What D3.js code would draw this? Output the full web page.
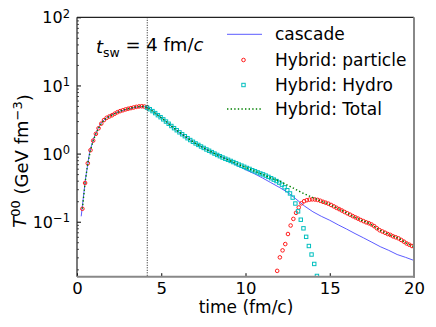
<!DOCTYPE html>
<html>
<head>
<meta charset="utf-8">
<script src="https://cdn.jsdelivr.net/npm/d3@7"></script>
<style>
  body { margin: 0; background: #fff; }
  text { font-family: "DejaVu Sans", sans-serif; fill: #000; }
</style>
</head>
<body>
<div id="chart"></div>
<script>
// values: [time fm/c, T00 GeV/fm^3]
const cascade = [
  [0.25,0.12],[0.5,0.42],[0.75,1.05],[1.0,1.7],[1.25,2.35],[1.5,2.95],[1.75,3.35],[2.0,3.65],
  [2.5,4.15],[3.0,4.5],[3.5,4.8],[4.0,4.9],[4.25,4.7],[4.5,4.2],[5.0,3.4],[5.5,2.65],
  [6.0,2.1],[6.5,1.72],[7.0,1.42],[7.5,1.22],[8.0,1.05],[8.5,0.92],[9.0,0.8],[9.5,0.67],
  [10.0,0.58],[10.5,0.51],[11.0,0.44],[11.5,0.375],[12.0,0.32],[12.5,0.27],[13.0,0.215],
  [13.5,0.17],[14.0,0.14],[14.5,0.12],[15.0,0.105],[15.5,0.09],[16.0,0.078],[16.5,0.067],
  [17.0,0.058],[17.5,0.05],[18.0,0.043],[18.5,0.038],[19.0,0.033],[19.5,0.03],[20.0,0.027]
];

const particle = [
  [0.32,0.155],[0.48,0.37],[0.64,0.72],[0.80,1.12],[0.96,1.55],[1.12,1.95],[1.28,2.35],
  [1.44,2.75],[1.60,3.1],[1.76,3.35],[1.92,3.5],[2.08,3.65],[2.24,3.85],[2.40,4.05],
  [2.56,4.2],[2.72,4.32],[2.88,4.45],[3.04,4.55],[3.20,4.65],[3.36,4.75],[3.52,4.85],
  [3.68,4.92],[3.84,4.95],[4.00,4.9],[4.16,4.8],
  [11.88,0.019],[12.04,0.030],[12.20,0.038],[12.36,0.047],[12.52,0.066],[12.68,0.088],
  [12.84,0.11],[13.00,0.135],[13.16,0.162],[13.32,0.186],[13.48,0.2],[13.64,0.207],
  [13.80,0.211],[13.96,0.213],[14.12,0.212],[14.28,0.209],[14.44,0.203],[14.60,0.196],
  [14.76,0.19],[14.92,0.184],[15.08,0.176],[15.24,0.168],[15.40,0.16],[15.56,0.153],
  [15.72,0.146],[15.88,0.139],[16.04,0.133],[16.20,0.127],[16.36,0.121],[16.52,0.116],
  [16.68,0.111],[16.84,0.106],[17.00,0.102],[17.16,0.098],[17.32,0.095],[17.48,0.091],
  [17.64,0.086],[17.80,0.08],[17.96,0.075],[18.12,0.072],[18.28,0.069],[18.44,0.066],
  [18.60,0.064],[18.76,0.061],[18.92,0.059],[19.08,0.057],[19.24,0.054],[19.40,0.051],
  [19.56,0.048],[19.72,0.046],[19.88,0.044],[20.04,0.043]
];

const hydro = [
  [4.16,4.72],[4.32,4.48],[4.48,4.2],[4.64,3.93],[4.80,3.66],[4.96,3.42],[5.12,3.18],
  [5.28,2.95],[5.44,2.74],[5.60,2.54],[5.76,2.36],[5.92,2.2],[6.08,2.05],[6.24,1.92],
  [6.40,1.8],[6.56,1.68],[6.72,1.58],[6.88,1.49],[7.04,1.41],[7.20,1.34],[7.36,1.27],
  [7.52,1.21],[7.68,1.15],[7.84,1.1],[8.00,1.05],[8.16,1.0],[8.32,0.955],[8.48,0.915],
  [8.64,0.875],[8.80,0.84],[8.96,0.81],[9.12,0.78],[9.28,0.75],[9.44,0.72],[9.60,0.69],
  [9.76,0.665],[9.92,0.64],[10.08,0.615],[10.24,0.595],[10.40,0.57],[10.56,0.55],
  [10.72,0.53],[10.88,0.51],[11.04,0.495],[11.20,0.475],[11.36,0.455],[11.52,0.435],
  [11.68,0.415],[11.84,0.395],[12.00,0.375],[12.16,0.35],[12.32,0.32],[12.48,0.29],
  [12.64,0.26],[12.80,0.226],[12.96,0.185],[13.12,0.142],[13.28,0.107],[13.44,0.08],
  [13.60,0.06],[13.76,0.044],[13.92,0.033],[14.08,0.024],[14.24,0.016]
];

const total = [
  [0.32,0.155],[0.48,0.37],[0.64,0.72],[0.80,1.12],[0.96,1.55],[1.12,1.95],[1.28,2.35],
  [1.44,2.75],[1.60,3.1],[1.92,3.5],[2.24,3.85],[2.56,4.2],[2.88,4.45],[3.20,4.65],
  [3.52,4.85],[3.84,4.95],[4.16,4.75],[4.48,4.2],[4.80,3.66],[5.12,3.18],[5.44,2.74],
  [5.76,2.36],[6.08,2.05],[6.40,1.8],[6.72,1.58],[7.04,1.41],[7.36,1.27],[7.68,1.15],
  [8.00,1.05],[8.32,0.955],[8.64,0.875],[8.96,0.81],[9.28,0.75],[9.60,0.69],[9.92,0.64],
  [10.24,0.595],[10.56,0.55],[10.88,0.51],[11.20,0.475],[11.52,0.435],[11.84,0.41],
  [12.16,0.38],[12.48,0.345],[12.80,0.315],[13.12,0.285],[13.44,0.26],[13.76,0.24],
  [14.08,0.222],[14.40,0.204],[14.72,0.19],[15.04,0.178],[15.36,0.162],[15.68,0.148],
  [16.00,0.135],[16.32,0.122],[16.64,0.112],[16.96,0.103],[17.28,0.096],[17.60,0.087],
  [17.92,0.076],[18.24,0.07],[18.56,0.064],[18.88,0.06],[19.20,0.055],[19.52,0.049],
  [19.84,0.045],[20.00,0.043]
];

const xTicks = [0, 5, 10, 15, 20];
const yTicks = [0.1, 1, 10, 100];
const yExponents = ["\u22121", "0", "1", "2"];
const legendLabels = ["cascade", "Hybrid: particle", "Hybrid: Hydro", "Hybrid: Total"];
const switchTime = 4.17;

// layout
const width = 436, height = 327;
const mLeft = 77, mRight = 414, mTop = 17.3, mBottom = 276.7;

const svg = d3.select("#chart").append("svg")
  .attr("width", width)
  .attr("height", height);

const x = d3.scaleLinear().domain([0, 20]).range([mLeft, mRight]);
const y = d3.scaleLog().domain([0.0156, 100]).range([mBottom, mTop]);

svg.append("clipPath").attr("id", "clip")
  .append("rect")
  .attr("x", mLeft).attr("y", mTop)
  .attr("width", mRight - mLeft).attr("height", mBottom - mTop);

const plot = svg.append("g").attr("clip-path", "url(#clip)");

const line = d3.line().x(d => x(d[0])).y(d => y(d[1]));

// cascade
plot.append("path")
  .datum(cascade)
  .attr("d", line)
  .attr("fill", "none")
  .attr("stroke", "#4a4aff")
  .attr("stroke-width", 0.9);

// particle markers
plot.selectAll(".particle")
  .data(particle)
  .enter().append("circle")
  .attr("cx", d => x(d[0]))
  .attr("cy", d => y(d[1]))
  .attr("r", 1.8)
  .attr("fill", "none")
  .attr("stroke", "#ff1a1a")
  .attr("stroke-width", 1);

// hydro markers
plot.selectAll(".hydro")
  .data(hydro)
  .enter().append("rect")
  .attr("x", d => x(d[0]) - 1.7)
  .attr("y", d => y(d[1]) - 1.7)
  .attr("width", 3.4)
  .attr("height", 3.4)
  .attr("fill", "none")
  .attr("stroke", "#00bfbf")
  .attr("stroke-width", 1);

// total
plot.append("path")
  .datum(total)
  .attr("d", line)
  .attr("fill", "none")
  .attr("stroke", "#008000")
  .attr("stroke-width", 1.4)
  .attr("stroke-dasharray", "1.4,2.2");

// switching time
svg.append("line")
  .attr("x1", x(switchTime)).attr("x2", x(switchTime))
  .attr("y1", mTop).attr("y2", mBottom)
  .attr("stroke", "#000")
  .attr("stroke-width", 0.9)
  .attr("stroke-dasharray", "1,1.5");

// axes
const xAxis = svg.append("g")
  .attr("transform", `translate(0,${mBottom})`)
  .call(d3.axisBottom(x).tickValues(xTicks).tickSize(-3.5).tickPadding(6).tickFormat(d3.format("d")));
xAxis.select(".domain").remove();
xAxis.selectAll("text").style("font-size", "16.5px").attr("fill", "#000");
xAxis.selectAll("line").attr("stroke", "#000");

const minors = [];
[0.01, 0.1, 1, 10].forEach(p => { for (let k = 2; k <= 9; k++) minors.push(p * k); });
const yMinor = svg.append("g")
  .attr("transform", `translate(${mLeft},0)`)
  .call(d3.axisLeft(y).tickValues(minors.filter(v => v >= 0.0156)).tickSize(-2).tickFormat(""));
yMinor.select(".domain").remove();
yMinor.selectAll("line").attr("stroke", "#000").attr("stroke-width", 0.7);

const yAxis = svg.append("g")
  .attr("transform", `translate(${mLeft},0)`)
  .call(d3.axisLeft(y).tickValues(yTicks).tickSize(-4).tickPadding(7).tickFormat(""));
yAxis.select(".domain").remove();
yAxis.selectAll("line").attr("stroke", "#000");
yAxis.selectAll(".tick text").each(function(d, i) {
  const t = d3.select(this).attr("dy", "0.35em").style("font-size", "16px").attr("fill", "#000");
  t.append("tspan").text("10");
  t.append("tspan").attr("dy", "-0.5em").style("font-size", "11.5px").text(yExponents[i]);
});

// frame
svg.append("line").attr("x1", mLeft).attr("x2", mRight).attr("y1", mTop).attr("y2", mTop)
  .attr("stroke", "#222").attr("stroke-width", 1.2);
svg.append("line").attr("x1", mLeft).attr("x2", mLeft).attr("y1", mTop).attr("y2", mBottom)
  .attr("stroke", "#222").attr("stroke-width", 1.2);
svg.append("line").attr("x1", mRight).attr("x2", mRight).attr("y1", mTop).attr("y2", mBottom + 1)
  .attr("stroke", "#888").attr("stroke-width", 2);
svg.append("line").attr("x1", mLeft).attr("x2", mRight + 1).attr("y1", mBottom).attr("y2", mBottom)
  .attr("stroke", "#888").attr("stroke-width", 2);

// axis labels
svg.append("text")
  .attr("x", 246)
  .attr("y", 313)
  .attr("text-anchor", "middle")
  .style("font-size", "17px")
  .text("time (fm/c)");

const yl = svg.append("text")
  .attr("transform", "translate(26,161) rotate(-90)")
  .attr("text-anchor", "middle")
  .style("font-size", "18px");
yl.append("tspan").style("font-style", "italic").text("T");
yl.append("tspan").attr("dy", "-0.45em").style("font-size", "13px").text("00");
yl.append("tspan").attr("dy", "0.45em").text(" (GeV fm");
yl.append("tspan").attr("dy", "-0.45em").style("font-size", "13px").text("\u22123");
yl.append("tspan").attr("dy", "0.45em").text(")");

// annotation
const ann = svg.append("text")
  .attr("x", 96)
  .attr("y", 53)
  .style("font-size", "18px");
ann.append("tspan").style("font-style", "italic").text("t");
ann.append("tspan").attr("dy", "0.3em").style("font-size", "12.5px").text("sw");
ann.append("tspan").attr("dy", "-0.3em").text(" = 4 fm/");
ann.append("tspan").style("font-style", "italic").text("c");

// legend
const legend = svg.append("g");
const rowY = [34.3, 60, 85, 109];
const lx0 = 227, lx1 = 262, lxm = 243.5;
legend.append("line").attr("x1", lx0).attr("x2", lx1).attr("y1", rowY[0]).attr("y2", rowY[0])
  .attr("stroke", "#4a4aff").attr("stroke-width", 0.9);
legend.append("circle").attr("cx", lxm).attr("cy", rowY[1]).attr("r", 1.8)
  .attr("fill", "none").attr("stroke", "#ff1a1a").attr("stroke-width", 1);
legend.append("rect").attr("x", lxm - 1.7).attr("y", rowY[2] - 1.7).attr("width", 3.4).attr("height", 3.4)
  .attr("fill", "none").attr("stroke", "#00bfbf").attr("stroke-width", 1);
legend.append("line").attr("x1", lx0).attr("x2", lx1).attr("y1", rowY[3]).attr("y2", rowY[3])
  .attr("stroke", "#008000").attr("stroke-width", 1.4).attr("stroke-dasharray", "1.4,2.2");
legend.selectAll("text")
  .data(legendLabels)
  .enter().append("text")
  .attr("x", 275)
  .attr("y", (d, i) => rowY[i])
  .attr("dy", "0.35em")
  .style("font-size", "17px")
  .text(d => d);
</script>
</body>
</html>
